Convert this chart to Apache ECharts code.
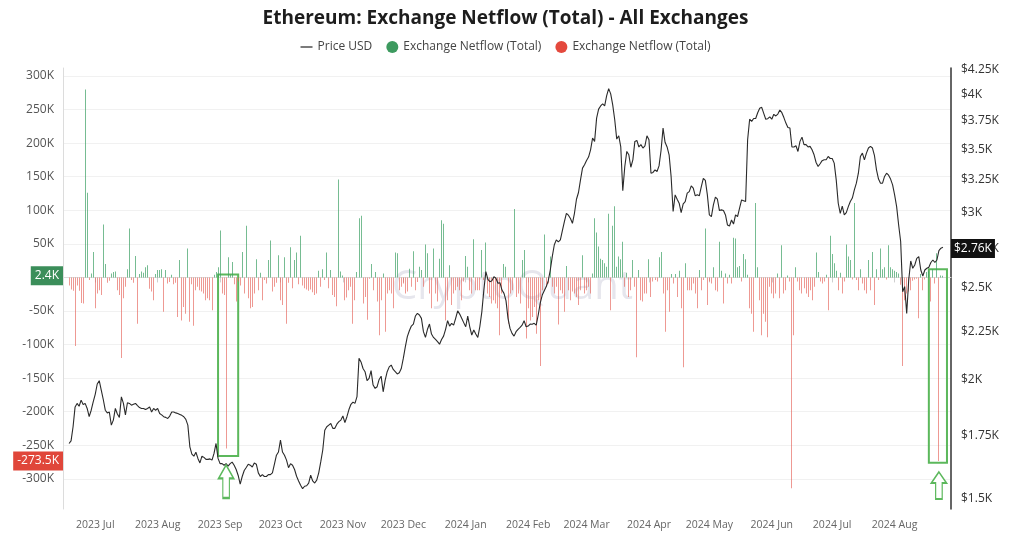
<!DOCTYPE html>
<html><head><meta charset="utf-8">
<script src="https://cdn.jsdelivr.net/npm/echarts@6/dist/echarts.min.js"></script>
<style>html,body{margin:0;padding:0;background:#fff}#c{width:1011px;height:538px}</style>
</head><body><div id="c"></div>
<script>
// ---- data ----
const startDate = [2023, 5, 15];      // first category (UTC y, m0, d)
const dayCount = 442;                 // 2023-06-15 .. 2024-08-29
const dataStartIndex = 3;             // data begins 2023-06-18
const monthNames = ['Jan','Feb','Mar','Apr','May','Jun','Jul','Aug','Sep','Oct','Nov','Dec'];

// Exchange netflow, thousands of ETH, daily from 2023-06-18
const netflowK = [
-12,-18,-20,-102,-12,-20,-38,-39,280,126,
-4,6,38,-46,-24,-19,-26,79,20,-8,
-5,6,8,9,-19,-26,-120,-31,-14,12,
73,-4,-8,32,-69,5,9,7,15,18,
-17,-21,-34,5,11,11,12,-51,11,-9,
-7,4,-10,-8,-59,26,-64,-44,-54,43,
-66,-10,-72,-19,-14,-19,-21,-24,-34,-31,
-34,-49,4,8,15,70,-24,-26,-255,30,
4,23,-10,-36,-6,-12,38,-24,77,-31,
-46,-44,-24,27,-19,7,-34,-4,-9,26,
55,-21,-14,-8,33,-34,-41,30,-69,-8,
45,-16,26,37,-10,62,-12,-16,-18,-20,
-18,-22,-26,-24,10,-14,12,-4,37,-16,
11,-26,-29,-43,146,9,3,-34,-30,-19,
-14,-69,-34,8,88,92,-39,-29,-63,-2,
20,-19,8,-36,-86,-34,6,-81,-24,-19,
-24,-46,37,36,-19,-14,-9,-24,-21,13,
-14,39,-19,-7,16,11,-14,49,36,-24,
-46,43,-24,-36,28,85,80,-64,-34,18,
-41,-24,-19,-14,-19,-34,-6,32,16,-19,
-24,57,-19,-19,-19,41,-4,52,-24,-29,
-39,-34,-39,-46,-86,-24,20,16,-69,-24,
-19,102,-29,-24,-39,26,41,-91,-46,-64,
-59,-44,-84,-34,-132,-19,64,-14,-9,31,
-14,-24,-14,-70,-19,-24,-51,17,-19,-34,
-21,-24,-29,-41,-19,33,-24,-19,-14,-24,
6,88,67,46,28,26,21,16,95,-49,
77,106,16,31,27,53,-14,7,-29,-19,
26,-14,-119,11,-34,-36,-24,-24,27,-29,
-6,-4,-6,30,38,-24,-81,-19,-51,5,
-9,5,-29,10,-46,-134,21,-19,-19,-19,
-9,-24,-46,11,-19,-4,73,-41,-6,-9,
15,-19,-21,53,10,-39,6,-9,4,-9,
59,58,15,17,-6,35,27,4,-46,-54,
-81,111,15,-34,-86,-54,-66,-89,-14,-24,
-31,-24,6,-31,48,-24,-19,3,-6,-314,
-86,15,-6,-19,-24,-16,-24,-29,-19,-34,
-14,37,8,-6,-9,-6,4,-49,62,35,
21,10,-19,7,-24,-6,49,31,26,-3,
111,-4,-19,12,-9,-19,-24,26,-19,38,
-41,12,-4,43,12,15,-3,48,15,12,
10,8,6,-11,-132,-34,-24,-21,-19,-5,
-3,-2,-61,5,-19,-3,8,10,-36,12,
-9,36,-273.5,3,2.4
];

// ETH price, USD, daily from 2023-06-18
const priceUSD = [
1715,1726,1786,1874,1890,1877,1905,1885,1890,1867,
1830,1859,1897,1932,1981,1997,1952,1908,1859,1847,
1851,1793,1815,1867,1842,1827,1920,1890,1838,1893,
1890,1882,1886,1890,1880,1871,1867,1867,1862,1867,
1874,1851,1867,1859,1867,1844,1838,1830,1827,1822,
1833,1851,1851,1847,1844,1840,1836,1830,1818,1793,
1701,1671,1663,1679,1654,1636,1663,1658,1650,1650,
1652,1647,1674,1715,1654,1633,1633,1627,1633,1623,
1633,1639,1627,1610,1587,1554,1583,1606,1618,1631,
1627,1620,1636,1631,1597,1583,1590,1583,1583,1590,
1590,1597,1631,1667,1680,1729,1680,1667,1647,1617,
1633,1627,1610,1584,1566,1550,1537,1546,1548,1558,
1588,1566,1558,1569,1597,1640,1688,1771,1786,1793,
1800,1779,1779,1797,1808,1815,1833,1804,1830,1862,
1886,1896,1890,1921,2108,2090,2057,2041,1997,2008,
2046,1976,1960,1968,2003,2019,1944,2000,2041,2065,
2074,2052,2041,2030,2036,2057,2108,2168,2222,2254,
2280,2291,2336,2351,2342,2323,2249,2218,2262,2291,
2236,2218,2207,2195,2182,2207,2225,2262,2310,2280,
2295,2285,2323,2366,2347,2323,2299,2276,2336,2276,
2231,2258,2236,2218,2276,2360,2488,2602,2553,2539,
2545,2570,2560,2529,2533,2488,2468,2425,2323,2267,
2240,2225,2249,2262,2273,2285,2310,2276,2280,2291,
2290,2295,2285,2342,2410,2458,2484,2509,2545,2612,
2700,2777,2810,2797,2810,2874,2937,2997,2983,2959,
2925,2997,3101,3152,3250,3344,3371,3407,3435,3496,
3597,3568,3775,3858,3888,3907,3888,3987,4055,4004,
3898,3760,3588,3617,3520,3166,3357,3482,3454,3351,
3412,3568,3576,3520,3540,3511,3530,3617,3582,3303,
3309,3330,3317,3362,3490,3685,3560,3520,3454,3277,
3010,3134,3101,3071,3002,3066,3083,3147,3159,3203,
3185,3127,3134,3127,3198,3262,3246,3134,2985,2973,
3059,3117,3101,3017,3022,3017,2985,2913,2906,2949,
2920,2985,2973,3034,3096,3090,3084,3582,3765,3745,
3772,3772,3825,3866,3875,3819,3765,3770,3787,3765,
3810,3795,3812,3850,3825,3780,3730,3690,3685,3520,
3520,3530,3482,3568,3605,3540,3540,3520,3525,3496,
3454,3390,3357,3380,3405,3412,3412,3440,3423,3423,
3385,3250,3071,2997,3050,2985,3002,3046,3084,3110,
3172,3224,3303,3440,3468,3412,3468,3511,3525,3511,
3446,3330,3256,3224,3224,3277,3303,3287,3256,3211,
3134,3046,2913,2799,2478,2509,2351,2549,2670,2623,
2644,2687,2698,2612,2574,2612,2623,2630,2660,2676,
2660,2676,2738,2754,2760
];

const netflowTicks = [-300000,-250000,-200000,-150000,-100000,-50000,0,50000,100000,150000,200000,250000,300000];
const priceTicks = [1500,1750,2000,2250,2500,2750,3000,3250,3500,3750,4000,4250];
const netflowRange = [-345000, 312000];
const priceRange = [1463, 4263];
const lastGreen = 2400, lastRed = -273500, lastPrice = 2760;
// highlighted windows
const boxFrom   = ['2023-08-31', '2024-08-18'];
const boxTo     = ['2023-09-10', '2024-08-27'];
const boxTop    = [4500, 12000];
const boxBottom = [-266000, -276000];
const arrowAt   = ['2023-09-04', '2024-08-23'];
const arrowY    = [-304000, -310000];
const arrowH    = [33, 27];

// ---- build ----
const categories = [];
const t0 = Date.UTC(startDate[0], startDate[1], startDate[2]);
for (let i = 0; i < dayCount; i++) categories.push(new Date(t0 + i * 86400000).toISOString().slice(0, 10));
function pad(arr) { const out = new Array(dayCount).fill(null); arr.forEach((v, k) => { out[dataStartIndex + k] = v; }); return out; }
const flow = pad(netflowK.map(v => v * 1000));
const posData = [], negData = [];
flow.forEach((v, i) => { if (v == null) return; (v > 0 ? posData : negData).push([i, v]); });
const logPrice = pad(priceUSD).map(v => v == null ? null : Math.log(v));
const isMonthStart = (idx, val) => val.slice(8) === '01';
const fmtMonth = v => v.slice(0, 4) + ' ' + monthNames[+v.slice(5, 7) - 1];
const fmtK = v => (v / 1000) + 'K';
const fmtPrice = p => '$' + (Math.round(p) / 1000) + 'K';
const FONT = '"Open Sans", "Noto Sans", sans-serif';
const GREEN_BOX = '#5cb85c';
const arrowPath = 'path://M8,0 L16,13 L11.5,13 L11.5,32 L4.5,32 L4.5,13 L0,13 Z';
const hiddenLine = {color: 'rgba(0,0,0,0)', width: 0, type: 'solid'};

// thin daily bars, positioned by the chart's axes
function barRenderer(color) {
  return function (params, api) {
    const p0 = api.coord([api.value(0), 0]);
    const p1 = api.coord([api.value(0), api.value(1)]);
    return {type: 'rect',
      shape: {x: Math.floor(p0[0]), y: Math.min(p0[1], p1[1]), width: 1, height: Math.abs(p1[1] - p0[1])},
      style: {fill: color}};
  };
}

const chart = echarts.init(document.getElementById('c'), null, {renderer: 'canvas'});
chart.setOption({
  animation: false,
  backgroundColor: '#fff',
  textStyle: {fontFamily: FONT},
  title: {text: 'Ethereum: Exchange Netflow (Total) - All Exchanges', left: 'center', top: 4,
    textStyle: {fontSize: 19, fontWeight: 'bold', color: '#1d1d1d', fontFamily: FONT}},
  legend: {top: 36, left: 'center', itemGap: 14, itemWidth: 12, itemHeight: 12,
    textStyle: {fontSize: 12, color: '#444', fontFamily: FONT},
    data: [
      {name: 'Price USD', icon: 'path://M0,0H12V1.3H0Z', itemStyle: {color: '#333'}},
      {name: 'Exchange Netflow (Total)', icon: 'circle', itemStyle: {color: '#3d9a5f'}},
      {name: 'Exchange Netflow (Total)\u200b', icon: 'circle', itemStyle: {color: '#e4493d'}}
    ]},
  graphic: [{type: 'text', left: 392, top: 268, silent: true, z: -1,
    style: {text: 'CryptoQuant', font: '40px ' + FONT, fill: 'rgba(180,180,200,0.33)'}}],
  grid: {left: 63, right: 60, top: 68, bottom: 29, containLabel: false},
  xAxis: {type: 'category', data: categories, boundaryGap: false,
    axisLine: {lineStyle: {color: '#dcdcdc'}},
    axisTick: {interval: isMonthStart, length: 5, lineStyle: {color: '#cfcfcf'}},
    axisLabel: {interval: isMonthStart, formatter: fmtMonth, color: '#666', fontSize: 10.5, margin: 11},
    splitLine: {show: false}},
  yAxis: [
    {type: 'value', position: 'left', min: netflowRange[0], max: netflowRange[1],
      axisLine: {show: true, lineStyle: {color: '#dcdcdc'}},
      axisTick: {show: false, customValues: netflowTicks},
      axisLabel: {customValues: netflowTicks, formatter: fmtK, color: '#555', fontSize: 12, margin: 9},
      splitLine: {show: true, lineStyle: {color: '#f1f1f1'}}},
    {type: 'value', position: 'right', min: Math.log(priceRange[0]), max: Math.log(priceRange[1]),
      axisLine: {show: true, lineStyle: {color: '#333', width: 1.5}},
      axisTick: {show: false, customValues: priceTicks.map(Math.log)},
      axisLabel: {customValues: priceTicks.map(Math.log), formatter: v => fmtPrice(Math.exp(v)), color: '#333', fontSize: 12, margin: 10},
      splitLine: {show: false}}
  ],
  series: [
    {name: 'Exchange Netflow (Total)', type: 'custom', data: posData, encode: {x: 0, y: 1}, z: 2, silent: true,
      renderItem: barRenderer('rgba(60,160,100,0.7)')},
    {name: 'Exchange Netflow (Total)\u200b', type: 'custom', data: negData, encode: {x: 0, y: 1}, z: 2, silent: true,
      renderItem: barRenderer('rgba(228,90,80,0.62)')},
    {name: 'Price USD', type: 'line', yAxisIndex: 1, data: logPrice, showSymbol: false, symbol: 'none', z: 4,
      lineStyle: {color: '#2a2a2a', width: 1.1}, itemStyle: {color: '#2a2a2a'},
      markLine: {silent: true, symbol: ['none', 'none'], lineStyle: hiddenLine, z: 10,
        label: {show: true, position: 'end', distance: 0, formatter: fmtPrice(lastPrice), color: '#fff', backgroundColor: '#111', padding: [4, 3, 3, 3], fontSize: 12},
        data: [{yAxis: Math.log(lastPrice)}]}},
    {name: 'annotations', type: 'line', yAxisIndex: 0, data: [], silent: true, z: 5,
      markLine: {silent: true, symbol: ['none', 'none'], lineStyle: hiddenLine, z: 10,
        data: [
          {yAxis: lastGreen, label: {show: true, position: 'start', distance: 0, formatter: fmtK(lastGreen), color: '#fff', backgroundColor: '#3b8e5a', padding: [4, 4, 3, 4], fontSize: 12}},
          {yAxis: lastRed, label: {show: true, position: 'start', distance: 0, formatter: fmtK(lastRed), color: '#fff', backgroundColor: '#e0463a', padding: [4, 4, 3, 4], fontSize: 12}}
        ]},
      markArea: {silent: true, itemStyle: {color: 'rgba(0,0,0,0)', borderColor: GREEN_BOX, borderWidth: 2},
        data: boxFrom.map((f, k) => [{xAxis: f, yAxis: boxTop[k]}, {xAxis: boxTo[k], yAxis: boxBottom[k]}])},
      markPoint: {silent: true, symbol: arrowPath, label: {show: false},
        itemStyle: {color: '#fff', borderColor: GREEN_BOX, borderWidth: 1.6},
        data: arrowAt.map((d, k) => ({coord: [d, arrowY[k]], symbolSize: [15, arrowH[k]]}))}}
  ]
});
</script></body></html>
